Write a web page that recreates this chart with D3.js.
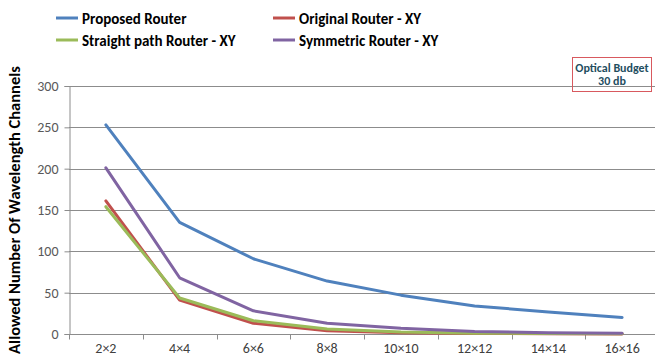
<!DOCTYPE html>
<html>
<head>
<meta charset="utf-8">
<script src="https://cdn.jsdelivr.net/npm/d3@7"></script>
<style>
  html, body { margin: 0; padding: 0; background: #fff; }
  svg { display: block; }
</style>
</head>
<body>
<svg id="chart" width="655" height="356"></svg>
<script>
// Network sizes on the x axis
const categories = ["2×2", "4×4", "6×6", "8×8", "10×10", "12×12", "14×14", "16×16"];

// Allowed number of wavelength channels per router design
const proposedRouter  = [253, 135, 91, 64, 47, 34, 26.5, 20];
const originalRouter  = [161, 41, 13, 4, 1.5, 0.6, 0.3, 0.1];
const straightRouter  = [154, 43.5, 16, 6, 2.5, 1, 0.5, 0.3];
const symmetricRouter = [201, 68, 28, 13, 7, 3, 1.5, 1];

const yTicks = [0, 50, 100, 150, 200, 250, 300];

const series = [
  { name: "Proposed Router",            values: proposedRouter,  color: "#4F81BD" },
  { name: "Original Router - XY",       values: originalRouter,  color: "#C0504D" },
  { name: "Straight path Router - XY",  values: straightRouter,  color: "#9BBB59" },
  { name: "Symmetric Router - XY",      values: symmetricRouter, color: "#8064A2" }
];

const svg = d3.select("#chart");
const margin = { left: 69, right: -4 };
const W = 655;

const x = d3.scaleBand().domain(categories).range([margin.left, W - margin.right]).padding(0);
const y = d3.scaleLinear().domain([0, 300]).range([334, 86]);

const font = "Calibri, Carlito, 'Open Sans', sans-serif";

// Horizontal gridlines
svg.append("g").selectAll("line").data(yTicks.filter(d => d > 0)).join("line")
  .attr("x1", margin.left).attr("x2", W)
  .attr("y1", d => Math.round(y(d)) + 0.5).attr("y2", d => Math.round(y(d)) + 0.5)
  .attr("stroke", "#8c8c8c").attr("stroke-width", 1);

// Y axis
const yAxis = svg.append("g").attr("transform", `translate(${margin.left + 0.5},0)`)
  .call(d3.axisLeft(y).tickValues(yTicks).tickSize(5).tickPadding(6));
yAxis.select(".domain").attr("stroke", "#8c8c8c");
yAxis.selectAll(".tick line").attr("stroke", "#8c8c8c");
yAxis.selectAll("text").attr("fill", "#595959").attr("font-size", 14).attr("font-family", font);

// X axis with ticks at category boundaries
const xAxisG = svg.append("g").attr("transform", `translate(0,${Math.round(y(0)) + 0.5})`);
xAxisG.append("line").attr("x1", margin.left).attr("x2", W).attr("stroke", "#8c8c8c");
const bounds = categories.map(c => x(c)).concat([x(categories[categories.length - 1]) + x.bandwidth()]);
xAxisG.selectAll("line.tk").data(bounds).join("line").attr("class", "tk")
  .attr("x1", d => Math.round(d) + 0.5).attr("x2", d => Math.round(d) + 0.5)
  .attr("y1", 0).attr("y2", 5).attr("stroke", "#8c8c8c");
xAxisG.selectAll("text").data(categories).join("text")
  .attr("x", d => x(d) + x.bandwidth() / 2).attr("y", 18)
  .attr("text-anchor", "middle").attr("fill", "#404040")
  .attr("font-size", 14).attr("font-family", font)
  .text(d => d);

// Series lines
const line = d3.line()
  .x((d, i) => x(categories[i]) + x.bandwidth() / 2)
  .y(d => y(d));
svg.append("g").selectAll("path").data(series).join("path")
  .attr("d", d => line(d.values))
  .attr("fill", "none").attr("stroke", d => d.color)
  .attr("stroke-width", 3).attr("stroke-linejoin", "round").attr("stroke-linecap", "round");

// Y axis title
svg.append("text")
  .attr("transform", "translate(20,210) rotate(-90)")
  .attr("text-anchor", "middle")
  .attr("font-size", 16.5).attr("font-weight", "bold").attr("font-family", font)
  .attr("fill", "#000")
  .text("Allowed Number Of Wavelength Channels");

// Legend
const legendPos = [[56, 18], [273, 18], [56, 40], [273, 40]];
const leg = svg.append("g").selectAll("g").data(series).join("g")
  .attr("transform", (d, i) => `translate(${legendPos[i][0]},${legendPos[i][1]})`);
leg.append("line").attr("x1", 0).attr("x2", 22).attr("y1", 0).attr("y2", 0)
  .attr("stroke", d => d.color).attr("stroke-width", 3);
leg.append("text").attr("x", 26).attr("y", 5.5)
  .attr("font-size", 15).attr("font-weight", "bold").attr("font-family", font)
  .attr("fill", "#000")
  .text(d => d.name);

// Optical budget annotation
svg.append("rect").attr("x", 572.5).attr("y", 57.5).attr("width", 79).attr("height", 34)
  .attr("fill", "none").attr("stroke", "#D8595E").attr("stroke-width", 1);
svg.append("text").attr("x", 612).attr("y", 71.5).attr("text-anchor", "middle")
  .attr("font-size", 12).attr("font-weight", "bold").attr("font-family", font)
  .attr("fill", "#1F4E5F").text("Optical Budget");
svg.append("text").attr("x", 612).attr("y", 85).attr("text-anchor", "middle")
  .attr("font-size", 12).attr("font-weight", "bold").attr("font-family", font)
  .attr("fill", "#1F4E5F").text("30 db");
</script>
</body>
</html>
